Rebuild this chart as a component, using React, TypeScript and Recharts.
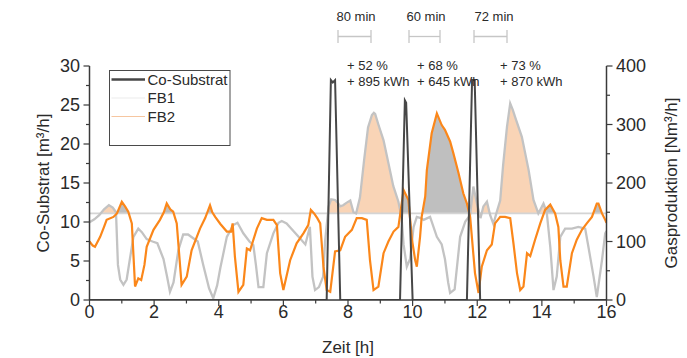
import React from 'react';
import { ComposedChart, Line, Area, XAxis, YAxis, ReferenceLine, Legend } from 'recharts';

// ---------- data ----------
const BASELINE = 148; // Nm³/h reference level

const coTime = [0, 7.34, 7.47, 7.53, 7.6, 7.76, 9.61, 9.76, 9.8, 10.0, 11.68, 11.84, 11.92, 12.09, 16];
const coRate = [0, 0, 28.2, 27.9, 28.2, 0, 0, 25.6, 25.3, 0, 0, 28.2, 28.2, 0, 0];

const fb1Time = [
  0, 0.15, 0.3, 0.45, 0.6, 0.72, 0.82, 0.88, 0.95, 1.05, 1.15, 1.25, 1.36, 1.51, 1.62, 1.77, 1.95, 2.1, 2.29, 2.4,
  2.49, 2.6, 2.75, 2.9, 3.05, 3.2, 3.35, 3.52, 3.7, 3.83, 3.95, 4.05, 4.25, 4.45, 4.58, 4.76, 4.95, 5.07, 5.15, 5.23,
  5.38, 5.49, 5.69, 5.85, 5.95, 6.1, 6.31, 6.52, 6.68, 6.82, 6.9, 6.98, 7.1, 7.23, 7.29, 7.4, 7.48, 7.6, 7.7, 7.76,
  7.85, 7.95, 8.07, 8.17, 8.25, 8.37, 8.5, 8.62, 8.74, 8.8, 8.84, 8.94, 9.1, 9.25, 9.4, 9.56, 9.66, 9.72, 9.82, 9.92,
  10.03, 10.13, 10.25, 10.34, 10.54, 10.75, 10.9, 11.0, 11.1, 11.16, 11.3, 11.47, 11.63, 11.78, 11.88, 11.99, 12.1, 12.19, 12.3, 12.4,
  12.5, 12.6, 12.71, 12.8, 12.92, 13.02, 13.1, 13.17, 13.38, 13.59, 13.74, 13.89, 14.05, 14.15, 14.26, 14.36, 14.46, 14.57, 14.72, 14.93,
  15.13, 15.34, 15.44, 15.6, 15.7, 15.86, 15.96, 16.0,
];
const fb1Flow = [
  133, 138, 145, 155, 162, 158, 150, 60, 35, 26, 35, 70, 108, 122, 116, 104, 100, 97, 70, 40,
  14, 30, 85, 112, 112, 106, 100, 60, 20, 3, 25, 55, 108, 128, 132, 114, 100, 94, 60, 22,
  22, 80, 114, 132, 135, 131, 118, 105, 95, 125, 40, 17, 22, 40, 100, 160, 172, 171, 165, 160,
  162, 166, 170, 150, 148, 175, 240, 295, 316, 320, 318, 300, 273, 234, 195, 168, 140, 95, 57, 70,
  125, 142, 140, 137, 142, 108, 95, 70, 30, 12, 18, 108, 134, 145, 194, 165, 140, 160, 168, 145,
  130, 150, 170, 230, 296, 336, 325, 313, 279, 222, 171, 148, 165, 150, 91, 17, 40, 108, 122, 122,
  125, 122, 91, 40, 5, 68, 114, 118,
];

const fb2Time = [
  0, 0.1, 0.17, 0.33, 0.45, 0.53, 0.74, 0.85, 1.0, 1.1, 1.2, 1.31, 1.41, 1.51, 1.6, 1.7, 1.77, 1.98, 2.18, 2.3,
  2.39, 2.5, 2.59, 2.7, 2.85, 3.01, 3.16, 3.42, 3.58, 3.73, 3.8, 3.89, 4.05, 4.25, 4.38, 4.43, 4.5, 4.61, 4.76, 4.87,
  4.97, 5.18, 5.33, 5.49, 5.69, 5.8, 5.9, 6.0, 6.21, 6.41, 6.62, 6.77, 6.85, 6.95, 7.05, 7.14, 7.24, 7.34, 7.45, 7.6,
  7.76, 7.91, 8.12, 8.27, 8.43, 8.58, 8.68, 8.79, 8.94, 9.1, 9.25, 9.41, 9.56, 9.72, 9.87, 9.98, 10.08, 10.13, 10.23, 10.28,
  10.39, 10.44, 10.59, 10.75, 10.9, 11.0, 11.16, 11.26, 11.42, 11.57, 11.68, 11.78, 11.93, 12.04, 12.14, 12.3, 12.45, 12.55, 12.71, 12.86,
  13.02, 13.12, 13.23, 13.33, 13.43, 13.54, 13.64, 13.79, 13.95, 14.1, 14.26, 14.41, 14.51, 14.57, 14.67, 14.77, 14.93, 15.08, 15.24, 15.39,
  15.55, 15.7, 15.75, 15.86, 15.96, 16.0,
];
const fb2Flow = [
  100, 93, 91, 108, 125, 137, 142, 148, 168, 160, 151, 131, 23, 37, 34, 60, 91, 120, 137, 150,
  165, 155, 151, 131, 26, 40, 85, 122, 140, 162, 150, 142, 130, 117, 117, 131, 74, 14, 26, 88,
  85, 122, 140, 137, 137, 128, 46, 17, 68, 97, 114, 128, 154, 148, 140, 131, 57, 17, 14, 83,
  85, 108, 120, 140, 140, 137, 68, 17, 23, 80, 100, 117, 125, 188, 171, 103, 68, 57, 108, 142,
  177, 222, 285, 319, 299, 291, 271, 251, 217, 182, 165, 142, 46, 12, 57, 85, 95, 131, 142, 142,
  140, 97, 46, 17, 23, 80, 75, 103, 131, 154, 163, 148, 125, 68, 23, 23, 80, 103, 120, 131,
  142, 165, 165, 148, 137, 132,
];

const xTicks = [0, 1, 2, 3, 4, 5, 6, 7, 8, 9, 10, 11, 12, 13, 14, 15, 16];
const xMajor = [0, 2, 4, 6, 8, 10, 12, 14, 16];
const leftTicks = [0, 2.5, 5, 7.5, 10, 12.5, 15, 17.5, 20, 22.5, 25, 27.5, 30];
const leftMajor = [0, 5, 10, 15, 20, 25, 30];
const rightTicks = [0, 50, 100, 150, 200, 250, 300, 350, 400];
const rightMajor = [0, 100, 200, 300, 400];

const seriesNames = ['Co-Substrat', 'FB1', 'FB2'];
const annotations = [
  { dur: '80 min', pct: '+ 52 %', energy: '+ 895 kWh' },
  { dur: '60 min', pct: '+ 68 %', energy: '+ 645 kWh' },
  { dur: '72 min', pct: '+ 73 %', energy: '+ 870 kWh' },
];

// ---------- styles ----------
const FONT = '"Liberation Sans", Arial, sans-serif';
const AXIS = '#3a3a3a';
const TEXT = '#2a2a2a';
const C_CO = '#474747';
const C_FB1 = '#c3c3c3';
const C_FB2 = '#fb871a';
const FILL_FB1 = '#f9d4b6';
const FILL_FB2 = '#bfbfbf';

// ---------- helpers ----------
const zip = (ts: number[], vs: number[]) => ts.map((t, i) => ({ t, v: vs[i] }));

function aboveBase(ts: number[], vs: number[]) {
  const out: { t: number; r: [number, number] }[] = [];
  for (let i = 0; i < ts.length; i++) {
    if (i > 0) {
      const a = vs[i - 1] - BASELINE;
      const b = vs[i] - BASELINE;
      if (a * b < 0) {
        const f = a / (a - b);
        out.push({ t: ts[i - 1] + f * (ts[i] - ts[i - 1]), r: [BASELINE, BASELINE] });
      }
    }
    out.push({ t: ts[i], r: [BASELINE, Math.max(vs[i], BASELINE)] });
  }
  return out;
}

const coData = zip(coTime, coRate);
const fb1Data = zip(fb1Time, fb1Flow);
const fb2Data = zip(fb2Time, fb2Flow);
const fb1Fill = aboveBase(fb1Time, fb1Flow);
const fb2Fill = aboveBase(fb2Time, fb2Flow);

const makeTick = (side: 'left' | 'right' | 'bottom', majors: number[]) => (props: any) => {
  const { x, y, payload } = props;
  const v = payload.value;
  const major = majors.includes(v);
  const len = major ? 6 : 3.5;
  if (side === 'left') {
    return (
      <g>
        <line x1={x - len} x2={x} y1={y} y2={y} stroke={AXIS} strokeWidth={1.2} />
        {major && (
          <text x={x - 9.5} y={y} dy="0.36em" textAnchor="end" fontSize={18} fill={TEXT} fontFamily={FONT}>
            {v}
          </text>
        )}
      </g>
    );
  }
  if (side === 'right') {
    return (
      <g>
        <line x1={x} x2={x + len} y1={y} y2={y} stroke={AXIS} strokeWidth={1.2} />
        {major && (
          <text x={x + 9.5} y={y} dy="0.36em" textAnchor="start" fontSize={18} fill={TEXT} fontFamily={FONT}>
            {v}
          </text>
        )}
      </g>
    );
  }
  return (
    <g>
      <line x1={x} x2={x} y1={y} y2={y + len} stroke={AXIS} strokeWidth={1.2} />
      {major && (
        <text x={x} y={y + 18} textAnchor="middle" fontSize={18} fill={TEXT} fontFamily={FONT}>
          {v}
        </text>
      )}
    </g>
  );
};

const legendColors = [C_CO, '#ececec', '#f6c6a0'];
const legendWidths = [2.5, 1.2, 1.2];

const LegendBox = () => (
  <svg width={122} height={76} style={{ display: 'block' }}>
    <rect x={0.5} y={0.5} width={120.5} height={75} fill="#fff" stroke="#4a4a4a" strokeWidth={1} />
    {seriesNames.map((n, i) => (
      <g key={n}>
        <line x1={2.5} x2={36} y1={9.5 + i * 18.5} y2={9.5 + i * 18.5} stroke={legendColors[i]} strokeWidth={legendWidths[i]} />
        <text x={38.5} y={9.5 + i * 18.5} dy="0.36em" fontSize={15} fill={TEXT} fontFamily={FONT}>
          {n}
        </text>
      </g>
    ))}
  </svg>
);

const bracketX = [
  [338, 371],
  [409, 440],
  [474, 507],
];
const durX = [336.5, 406.5, 474.5];
const noteX = [347, 417, 500];

export default function App() {
  return (
    <div style={{ position: 'absolute', left: 0, top: 0, width: 687, height: 358, background: '#fff' }}>
      <ComposedChart width={687} height={358} margin={{ top: 66, right: 0, bottom: 0, left: 0 }}>
        <XAxis
          xAxisId="x"
          type="number"
          dataKey="t"
          domain={[0, 16]}
          ticks={xTicks}
          interval={0}
          allowDataOverflow
          height={58}
          tickSize={0}
          tickMargin={0}
          tickLine={false}
          axisLine={{ stroke: AXIS, strokeWidth: 1.5 }}
          tick={makeTick('bottom', xMajor)}
          label={(p: any) => {
            const vb = p.viewBox || { x: 89.5, y: 300, width: 517 };
            return (
              <text x={vb.x + vb.width / 2} y={353} textAnchor="middle" fontSize={17} fill={TEXT} fontFamily={FONT}>
                Zeit [h]
              </text>
            );
          }}
        />
        <YAxis
          yAxisId="left"
          orientation="left"
          width={89.5}
          domain={[0, 30]}
          ticks={leftTicks}
          interval={0}
          allowDataOverflow
          tickSize={0}
          tickMargin={0}
          tickLine={false}
          axisLine={{ stroke: AXIS, strokeWidth: 1.5 }}
          tick={makeTick('left', leftMajor)}
          label={() => (
            <text
              x={43}
              y={183}
              transform="rotate(-90 43 183)"
              textAnchor="middle"
              dy="0.36em"
              fontSize={17}
              fill={TEXT}
              fontFamily={FONT}
            >
              Co-Substrat [m³/h]
            </text>
          )}
        />
        <YAxis
          yAxisId="right"
          orientation="right"
          width={80.5}
          domain={[0, 400]}
          ticks={rightTicks}
          interval={0}
          allowDataOverflow
          tickSize={0}
          tickMargin={0}
          tickLine={false}
          axisLine={{ stroke: AXIS, strokeWidth: 1.5 }}
          tick={makeTick('right', rightMajor)}
          label={() => (
            <text
              x={671}
              y={183}
              transform="rotate(-90 671 183)"
              textAnchor="middle"
              dy="0.36em"
              fontSize={17}
              fill={TEXT}
              fontFamily={FONT}
            >
              Gasproduktion [Nm³/h]
            </text>
          )}
        />
        <Area
          xAxisId="x"
          yAxisId="right"
          data={fb1Fill}
          dataKey="r"
          type="linear"
          stroke="none"
          fill={FILL_FB1}
          fillOpacity={1}
          isAnimationActive={false}
          legendType="none"
        />
        <Area
          xAxisId="x"
          yAxisId="right"
          data={fb2Fill}
          dataKey="r"
          type="linear"
          stroke="none"
          fill={FILL_FB2}
          fillOpacity={1}
          isAnimationActive={false}
          legendType="none"
        />
        <ReferenceLine xAxisId="x" yAxisId="right" y={BASELINE} stroke="#d4d4d4" strokeWidth={1.6} />
        <Line
          xAxisId="x"
          yAxisId="right"
          data={fb1Data}
          dataKey="v"
          name={seriesNames[1]}
          type="linear"
          stroke={C_FB1}
          strokeWidth={2.3}
          dot={false}
          isAnimationActive={false}
        />
        <Line
          xAxisId="x"
          yAxisId="right"
          data={fb2Data}
          dataKey="v"
          name={seriesNames[2]}
          type="linear"
          stroke={C_FB2}
          strokeWidth={2.2}
          dot={false}
          isAnimationActive={false}
        />
        <Line
          xAxisId="x"
          yAxisId="left"
          data={coData}
          dataKey="v"
          name={seriesNames[0]}
          type="linear"
          stroke={C_CO}
          strokeWidth={2}
          dot={false}
          isAnimationActive={false}
        />
        <Legend
          layout="horizontal"
          verticalAlign="middle"
          align="center"
          content={() => <LegendBox />}
          wrapperStyle={{ position: 'absolute', left: 109, top: 70, width: 122, height: 76 }}
        />
      </ComposedChart>
      <svg
        width={687}
        height={358}
        style={{ position: 'absolute', left: 0, top: 0, pointerEvents: 'none' }}
      >
        {annotations.map((a, i) => (
          <g key={a.dur} fontFamily={FONT} fill={TEXT}>
            <text x={durX[i]} y={21} fontSize={13}>
              {a.dur}
            </text>
            <line x1={bracketX[i][0]} x2={bracketX[i][1]} y1={36.5} y2={36.5} stroke="#c6c6c6" strokeWidth={1.3} />
            <line x1={bracketX[i][0]} x2={bracketX[i][0]} y1={30} y2={43} stroke="#c6c6c6" strokeWidth={1.3} />
            <line x1={bracketX[i][1]} x2={bracketX[i][1]} y1={30} y2={43} stroke="#c6c6c6" strokeWidth={1.3} />
            <text x={noteX[i]} y={69.5} fontSize={13}>
              {a.pct}
            </text>
            <text x={noteX[i]} y={85.5} fontSize={13}>
              {a.energy}
            </text>
          </g>
        ))}
      </svg>
    </div>
  );
}
